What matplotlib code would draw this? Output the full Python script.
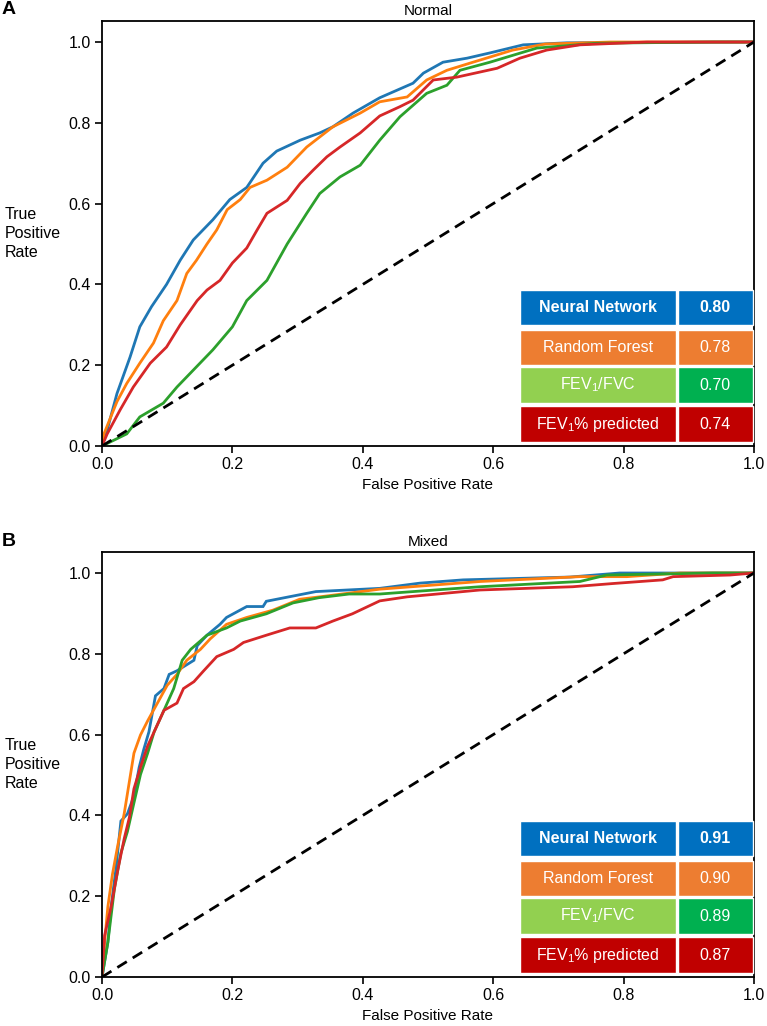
import matplotlib
matplotlib.use("Agg")
import matplotlib.pyplot as plt
from matplotlib.patches import Rectangle

plt.rcParams['font.family'] = ['Liberation Sans', 'DejaVu Sans']
plt.rcParams['mathtext.fontset'] = 'custom'
plt.rcParams['mathtext.rm'] = 'Liberation Sans'
plt.rcParams['mathtext.it'] = 'Liberation Sans:italic'
plt.rcParams['mathtext.bf'] = 'Liberation Sans:bold'

# ---------------- data ----------------
panel_titles = ["Normal", "Mixed"]
panel_letters = ["A", "B"]
model_names = ["Neural Network", "Random Forest", r"FEV$_{\mathrm{1}}$/FVC", r"FEV$_{\mathrm{1}}$% predicted"]
auc_normal = ["0.80", "0.78", "0.70", "0.74"]
auc_mixed = ["0.91", "0.90", "0.89", "0.87"]
x_ticks = [0.0, 0.2, 0.4, 0.6, 0.8, 1.0]
y_ticks = [0.0, 0.2, 0.4, 0.6, 0.8, 1.0]

# Normal
normal_nn_fpr = [0, 0.008, 0.023, 0.043, 0.058, 0.076, 0.099, 0.12, 0.14, 0.17, 0.196, 0.222, 0.247, 0.268,
                 0.304, 0.334, 0.354, 0.385, 0.426, 0.477, 0.493, 0.523, 0.56, 0.595, 0.646, 0.713, 1.0]
normal_nn_tpr = [0, 0.04, 0.13, 0.22, 0.295, 0.345, 0.40, 0.46, 0.51, 0.56, 0.61, 0.64, 0.70, 0.73,
                 0.757, 0.775, 0.79, 0.824, 0.862, 0.898, 0.923, 0.95, 0.96, 0.973, 0.993, 0.998, 1.0]
normal_rf_fpr = [0, 0.003, 0.023, 0.038, 0.058, 0.079, 0.094, 0.115, 0.13, 0.145, 0.161, 0.176, 0.192, 0.212,
                 0.227, 0.253, 0.284, 0.314, 0.334, 0.354, 0.396, 0.426, 0.468, 0.498, 0.529, 0.569, 0.63,
                 0.68, 0.78, 1.0]
normal_rf_tpr = [0, 0.03, 0.11, 0.155, 0.205, 0.255, 0.31, 0.36, 0.427, 0.46, 0.50, 0.535, 0.585, 0.61,
                 0.64, 0.658, 0.69, 0.74, 0.765, 0.79, 0.824, 0.852, 0.864, 0.906, 0.93, 0.95, 0.98,
                 0.995, 1.0, 1.0]
normal_ratio_fpr = [0, 0.038, 0.058, 0.094, 0.115, 0.17, 0.20, 0.222, 0.253, 0.284, 0.314, 0.334, 0.365,
                    0.396, 0.426, 0.457, 0.498, 0.529, 0.549, 0.595, 0.667, 0.759, 0.937, 1.0]
normal_ratio_tpr = [0, 0.03, 0.072, 0.106, 0.146, 0.238, 0.295, 0.36, 0.41, 0.50, 0.576, 0.625, 0.666,
                    0.695, 0.757, 0.815, 0.873, 0.893, 0.93, 0.95, 0.985, 0.997, 1.0, 1.0]
normal_pred_fpr = [0, 0.008, 0.028, 0.048, 0.074, 0.099, 0.12, 0.146, 0.161, 0.181, 0.20, 0.222, 0.238,
                   0.253, 0.284, 0.304, 0.324, 0.345, 0.365, 0.396, 0.426, 0.457, 0.477, 0.508, 0.544,
                   0.606, 0.641, 0.682, 0.733, 0.836, 1.0]
normal_pred_tpr = [0, 0.03, 0.09, 0.146, 0.205, 0.245, 0.30, 0.36, 0.386, 0.41, 0.453, 0.49, 0.535,
                   0.576, 0.608, 0.65, 0.683, 0.716, 0.74, 0.775, 0.817, 0.84, 0.856, 0.906, 0.913,
                   0.935, 0.96, 0.98, 0.993, 1.0, 1.0]

# Mixed
mixed_nn_fpr = [0, 0.009, 0.014, 0.021, 0.029, 0.039, 0.049, 0.057, 0.064, 0.072, 0.082, 0.095, 0.103,
                0.115, 0.141, 0.146, 0.161, 0.181, 0.191, 0.222, 0.247, 0.252, 0.293, 0.328, 0.426,
                0.488, 0.554, 0.718, 0.794, 1.0]
mixed_nn_tpr = [0, 0.086, 0.174, 0.263, 0.386, 0.404, 0.448, 0.519, 0.563, 0.607, 0.696, 0.714, 0.749,
                0.758, 0.784, 0.82, 0.846, 0.873, 0.89, 0.917, 0.917, 0.93, 0.943, 0.954, 0.962,
                0.975, 0.983, 0.99, 1.0, 1.0]
mixed_rf_fpr = [0, 0.004, 0.009, 0.016, 0.024, 0.034, 0.042, 0.049, 0.059, 0.07, 0.085, 0.1, 0.115, 0.13,
                0.151, 0.166, 0.191, 0.222, 0.262, 0.303, 0.344, 0.426, 0.58, 0.733, 0.805, 0.887, 1.0]
mixed_rf_tpr = [0, 0.086, 0.174, 0.254, 0.324, 0.404, 0.484, 0.554, 0.599, 0.634, 0.678, 0.722, 0.749,
                0.784, 0.811, 0.837, 0.873, 0.89, 0.908, 0.935, 0.943, 0.96, 0.979, 0.991, 0.991, 1.0, 1.0]
mixed_ratio_fpr = [0, 0.009, 0.019, 0.029, 0.039, 0.049, 0.059, 0.07, 0.08, 0.095, 0.11, 0.123, 0.136,
                   0.161, 0.191, 0.212, 0.252, 0.293, 0.333, 0.379, 0.426, 0.477, 0.58, 0.733, 0.774,
                   0.937, 1.0]
mixed_ratio_tpr = [0, 0.086, 0.218, 0.307, 0.36, 0.431, 0.501, 0.554, 0.607, 0.66, 0.714, 0.784, 0.811,
                   0.846, 0.864, 0.881, 0.899, 0.926, 0.939, 0.948, 0.948, 0.954, 0.966, 0.979, 0.995,
                   1.0, 1.0]
mixed_pred_fpr = [0, 0.004, 0.014, 0.024, 0.034, 0.042, 0.049, 0.059, 0.07, 0.08, 0.095, 0.115, 0.125,
                  0.141, 0.156, 0.176, 0.202, 0.217, 0.252, 0.288, 0.328, 0.354, 0.384, 0.426, 0.468,
                  0.58, 0.722, 0.784, 0.86, 0.876, 0.963, 1.0]
mixed_pred_tpr = [0, 0.103, 0.174, 0.263, 0.342, 0.395, 0.466, 0.519, 0.572, 0.607, 0.66, 0.678, 0.714,
                  0.731, 0.758, 0.793, 0.811, 0.828, 0.846, 0.864, 0.864, 0.881, 0.899, 0.931, 0.941,
                  0.958, 0.966, 0.974, 0.983, 0.991, 0.995, 1.0]

diag = [0.0, 1.0]

# ---------------- styles ----------------
line_colors = ['#1f77b4', '#ff7f0e', '#2ca02c', '#d62728']
name_colors = ['#0070C0', '#ED7D31', '#92D050', '#C00000']
value_colors = ['#0070C0', '#ED7D31', '#00B050', '#C00000']
FS = 11.5

fig = plt.figure(figsize=(7.67, 10.26), dpi=100)
W, H = 767.0, 1026.0

panels = [
    dict(bottom=446, curves=[(normal_nn_fpr, normal_nn_tpr), (normal_rf_fpr, normal_rf_tpr),
                             (normal_ratio_fpr, normal_ratio_tpr), (normal_pred_fpr, normal_pred_tpr)],
         aucs=auc_normal),
    dict(bottom=977, curves=[(mixed_nn_fpr, mixed_nn_tpr), (mixed_rf_fpr, mixed_rf_tpr),
                             (mixed_ratio_fpr, mixed_ratio_tpr), (mixed_pred_fpr, mixed_pred_tpr)],
         aucs=auc_mixed),
]

left_px, right_px, ax_h_px = 102, 754, 425
# table rows (axes fraction top, bottom)
row_spans = [(0.367, 0.285), (0.273, 0.191), (0.186, 0.101), (0.094, 0.009)]
col_spans = [(0.641, 0.880), (0.883, 0.998)]

for i, p in enumerate(panels):
    ax = fig.add_axes([left_px / W, 1 - p['bottom'] / H, (right_px - left_px) / W, ax_h_px / H])
    for (fx, ty), c in zip(p['curves'], line_colors):
        ax.plot(fx, ty, color=c, lw=2.0, solid_joinstyle='miter')
    ax.plot(diag, diag, color='black', lw=2.0, ls=(0, (4, 2.5)))
    ax.set_xlim(0, 1.0)
    ax.set_ylim(0, 1.052)
    ax.set_xticks(x_ticks)
    ax.set_yticks(y_ticks)
    ax.set_xticklabels([f"{t:.1f}" for t in x_ticks], fontsize=FS)
    ax.set_yticklabels([f"{t:.1f}" for t in y_ticks], fontsize=FS)
    ax.tick_params(direction='out', length=5, width=1.2, pad=3)
    for s in ax.spines.values():
        s.set_linewidth(1.3)
    ax.set_title(panel_titles[i], fontsize=11, pad=4)
    ax.set_xlabel("False Positive Rate", fontsize=11, labelpad=4)
    ax.set_ylabel("True\nPositive\nRate", fontsize=11.5, rotation=0, ha='left', va='center',
                  linespacing=1.3)
    ax.yaxis.set_label_coords(-0.149, 0.5)

    # table
    for r, (top, bot) in enumerate(row_spans):
        for cidx, (x0, x1) in enumerate(col_spans):
            color = name_colors[r] if cidx == 0 else value_colors[r]
            ax.add_patch(Rectangle((x0, bot), x1 - x0, top - bot, transform=ax.transAxes,
                                   facecolor=color, edgecolor='white', lw=1.0, zorder=5,
                                   clip_on=False))
            txt = model_names[r] if cidx == 0 else p['aucs'][r]
            ax.text((x0 + x1) / 2, (top + bot) / 2, txt, transform=ax.transAxes,
                    ha='center', va='center', color='white', fontsize=FS,
                    fontweight='bold' if r == 0 else 'normal', zorder=6)

    top_px = p['bottom'] - ax_h_px
    fig.text(2 / W, 1 - (top_px - 11) / H, panel_letters[i], fontsize=14, fontweight='bold',
             ha='left', va='center')

fig.savefig("out.png", dpi=100)
